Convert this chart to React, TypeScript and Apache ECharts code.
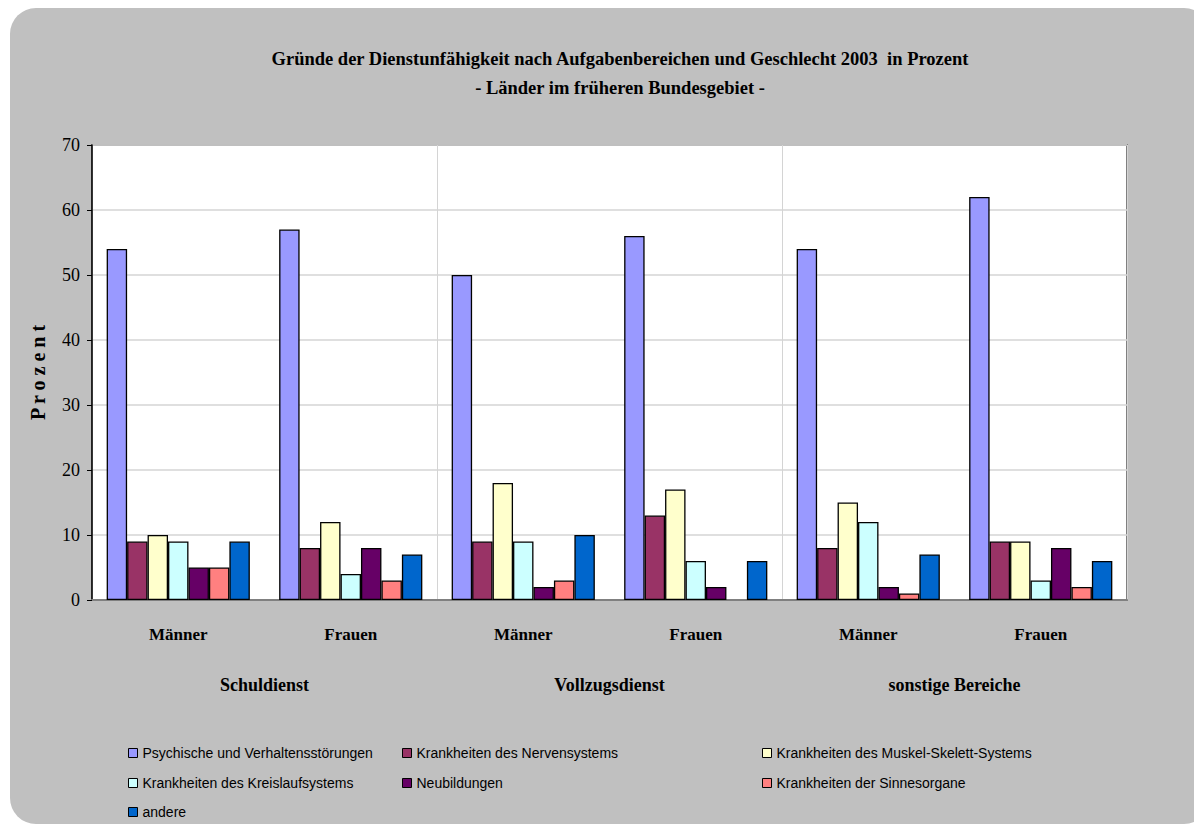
import React, { useEffect, useRef } from "react";
import * as echarts from "echarts";

const titleLines = [
  "Gründe der Dienstunfähigkeit nach Aufgabenbereichen und Geschlecht 2003  in Prozent",
  "- Länder im früheren Bundesgebiet -",
];
const genderLabels = ["Männer", "Frauen", "Männer", "Frauen", "Männer", "Frauen"];
const areaLabels = ["Schuldienst", "Vollzugsdienst", "sonstige Bereiche"];
const yTicks = { min: 0, max: 70, interval: 10 };
const yName = "P r o z e n t";

const seriesNames = [
  "Psychische und Verhaltensstörungen",
  "Krankheiten des Nervensystems",
  "Krankheiten des Muskel-Skelett-Systems",
  "Krankheiten des Kreislaufsystems",
  "Neubildungen",
  "Krankheiten der Sinnesorgane",
  "andere",
];
const psychische = [54, 57, 50, 56, 54, 62];
const nerven = [9, 8, 9, 13, 8, 9];
const muskel = [10, 12, 18, 17, 15, 9];
const kreislauf = [9, 4, 9, 6, 12, 3];
const neubildungen = [5, 8, 2, 2, 2, 8];
const sinnesorgane = [5, 3, 3, null, 1, 2];
const andere = [9, 7, 10, 6, 7, 6];
const seriesValues = [psychische, nerven, muskel, kreislauf, neubildungen, sinnesorgane, andere];
const seriesColors = ["#9999FF", "#993366", "#FFFFCC", "#CCFFFF", "#660066", "#FF8080", "#0066CC"];

// legend placement: [column, row] of each series
const legendCell = [
  [0, 0],
  [1, 0],
  [2, 0],
  [0, 1],
  [1, 1],
  [2, 1],
  [0, 2],
];
const legendColX = [128, 402, 762];
const legendRowY = [746, 776, 805];

export default function App() {
  const ref = useRef<HTMLDivElement>(null);
  useEffect(() => {
    if (!ref.current) return;
    const chart = echarts.init(ref.current, null, { renderer: "svg" });
    const serif = "'Liberation Serif', 'Times New Roman', serif";
    const sans = "'Liberation Sans', Arial, sans-serif";
    chart.setOption({
      animation: false,
      backgroundColor: "#ffffff",
      graphic: [
        {
          type: "rect",
          z: -10,
          silent: true,
          shape: { x: 10, y: 8, width: 1200, height: 816, r: 26 },
          style: { fill: "#C0C0C0" },
        },
      ],
      title: {
        text: titleLines.join("\n"),
        left: 615,
        top: 39,
        textAlign: "center",
        textStyle: {
          fontFamily: serif,
          fontWeight: "bold",
          fontSize: 18.5,
          lineHeight: 29,
          color: "#000",
        },
      },
      legend: seriesNames.map((name, i) => ({
        data: [name],
        left: legendColX[legendCell[i][0]],
        top: legendRowY[legendCell[i][1]],
        padding: 0,
        itemWidth: 9,
        itemHeight: 9,
        icon: "rect",
        itemStyle: { borderColor: "#000", borderWidth: 1 },
        textStyle: { fontFamily: sans, fontSize: 14, color: "#000" },
      })),
      grid: {
        left: 92,
        right: 67,
        top: 145,
        bottom: 228,
        show: true,
        backgroundColor: "#ffffff",
        borderColor: "#808080",
        borderWidth: 2,
      },
      xAxis: [
        {
          type: "category",
          data: genderLabels,
          axisLine: { lineStyle: { color: "#808080", width: 2 } },
          axisTick: { show: false },
          splitLine: { show: false },
          axisLabel: {
            margin: 26,
            fontFamily: serif,
            fontWeight: "bold",
            fontSize: 17,
            color: "#000",
          },
        },
        {
          type: "category",
          data: areaLabels,
          position: "bottom",
          axisLine: { show: false },
          axisTick: { show: false },
          splitLine: { show: true, interval: 0, lineStyle: { color: "#d4d4d4", width: 1 } },
          axisLabel: {
            margin: 76,
            fontFamily: serif,
            fontWeight: "bold",
            fontSize: 18,
            color: "#000",
          },
        },
      ],
      yAxis: {
        type: "value",
        min: yTicks.min,
        max: yTicks.max,
        interval: yTicks.interval,
        name: yName,
        nameLocation: "middle",
        nameGap: 44,
        nameRotate: 90,
        nameTextStyle: { fontFamily: serif, fontWeight: "bold", fontSize: 20, color: "#000" },
        axisLine: { show: true, lineStyle: { color: "#000", width: 1.5 } },
        axisTick: { show: true, inside: false, length: 5, lineStyle: { color: "#000" } },
        splitLine: { show: true, lineStyle: { color: "#d4d4d4", width: 1.5 } },
        axisLabel: { margin: 12, fontFamily: serif, fontSize: 18, color: "#000" },
      },
      series: seriesNames.map((name, i) => ({
        name,
        type: "bar",
        xAxisIndex: 0,
        data: seriesValues[i],
        barGap: "0%",
        barCategoryGap: "17%",
        itemStyle: { color: seriesColors[i], borderColor: "#000", borderWidth: 1.3 },
      })),
    });
    return () => chart.dispose();
  }, []);
  return (
    <div
      ref={ref}
      style={{ position: "absolute", left: 0, top: 0, width: 1194, height: 828 }}
    />
  );
}
